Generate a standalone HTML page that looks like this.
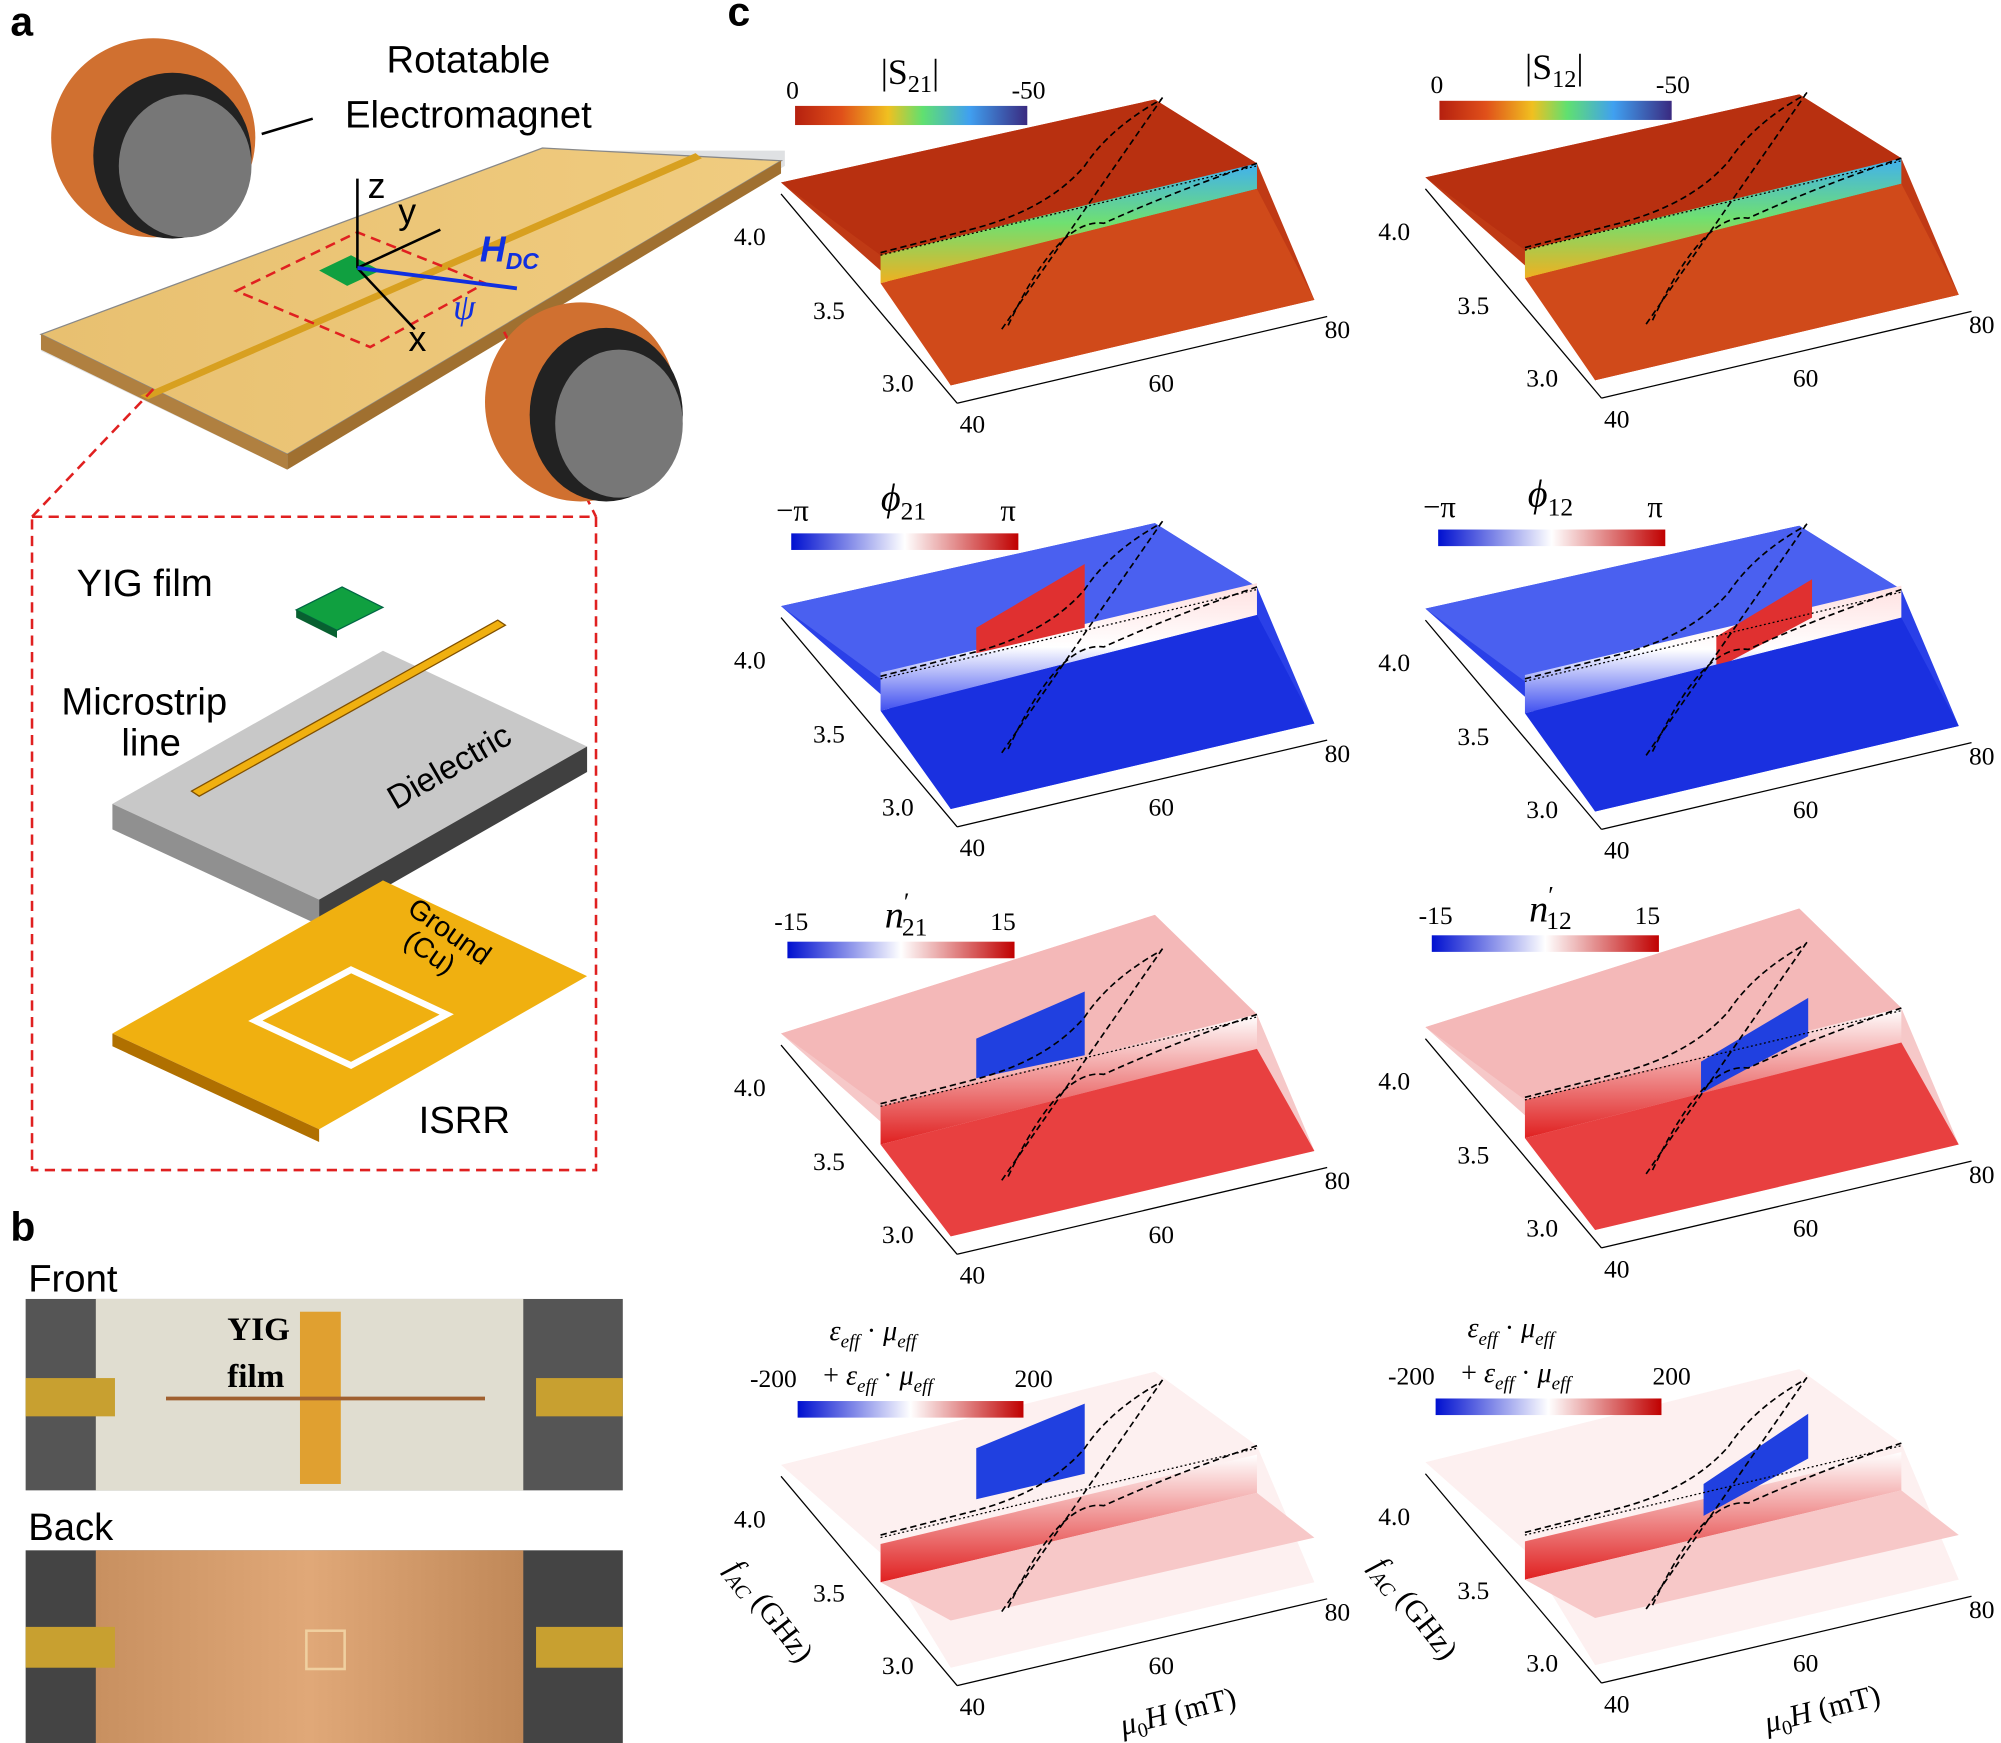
<!DOCTYPE html>
<html><head><meta charset="utf-8"><style>
html,body{margin:0;padding:0;background:#fff;}
svg{display:block}
.s{font-family:"Liberation Sans",sans-serif}
.r{font-family:"Liberation Serif",serif}
</style></head><body>
<svg width="2001" height="1743" viewBox="0 0 1568 1366" xmlns="http://www.w3.org/2000/svg">
<defs>
<linearGradient id="jet" x1="0" x2="1"><stop offset="0" stop-color="#b5200f"/><stop offset="0.2" stop-color="#e0501a"/><stop offset="0.4" stop-color="#f0c020"/><stop offset="0.55" stop-color="#60e070"/><stop offset="0.75" stop-color="#40a0f0"/><stop offset="1" stop-color="#3a2a80"/></linearGradient>
<linearGradient id="bwr" x1="0" x2="1"><stop offset="0" stop-color="#0010d0"/><stop offset="0.5" stop-color="#ffffff"/><stop offset="1" stop-color="#c00000"/></linearGradient>
<linearGradient id="bandS" x1="0" y1="0" x2="0" y2="1"><stop offset="0" stop-color="#40b0f0"/><stop offset="0.5" stop-color="#70e070"/><stop offset="1" stop-color="#f0b020"/></linearGradient>
<linearGradient id="bandP" x1="0" y1="0" x2="0" y2="1"><stop offset="0" stop-color="#ffe0e0"/><stop offset="0.5" stop-color="#ffffff"/><stop offset="1" stop-color="#4050f0"/></linearGradient>
<linearGradient id="bandN" x1="0" y1="0" x2="0" y2="1"><stop offset="0" stop-color="#fff"/><stop offset="1" stop-color="#e02020"/></linearGradient>
<linearGradient id="board" x1="0" x2="1"><stop offset="0" stop-color="#e8c070"/><stop offset="1" stop-color="#f0cc80"/></linearGradient>
<linearGradient id="copper" x1="0" x2="1"><stop offset="0" stop-color="#c89060"/><stop offset="0.5" stop-color="#e0a878"/><stop offset="1" stop-color="#c08858"/></linearGradient>
<g id="axes">
<line x1="612" y1="152" x2="750" y2="316" stroke="#000" stroke-width="1"/>
<line x1="750" y1="316" x2="1040" y2="248" stroke="#000" stroke-width="1"/>
<text x="600" y="192" class="r" font-size="20" text-anchor="end">4.0</text>
<text x="662" y="250" class="r" font-size="20" text-anchor="end">3.5</text>
<text x="716" y="307" class="r" font-size="20" text-anchor="end">3.0</text>
<text x="762" y="339" class="r" font-size="20" text-anchor="middle">40</text>
<text x="910" y="307" class="r" font-size="20" text-anchor="middle">60</text>
<text x="1048" y="265" class="r" font-size="20" text-anchor="middle">80</text>
</g>
<g id="lines">
<line x1="785" y1="258" x2="912" y2="75" stroke="#000" stroke-width="1.3" stroke-dasharray="5,3"/>
<path d="M790,255 Q830,170 865,175 Q920,150 985,128" fill="none" stroke="#000" stroke-width="1.3" stroke-dasharray="5,3"/>
<path d="M690,198 L760,180 Q820,165 850,130 Q870,100 910,78" fill="none" stroke="#000" stroke-width="1.3" stroke-dasharray="5,3"/>
<line x1="690" y1="200" x2="985" y2="130" stroke="#000" stroke-width="1" stroke-dasharray="1.5,2"/>
</g>
</defs>

<!-- Panel a -->
<text x="8" y="28" class="s" font-size="32" font-weight="bold">a</text>
<polygon points="32,262 420,118 615,118 615,130 225,368 32,275" fill="#c9cdd0" opacity="0.6"/>
<polygon points="32,262 425,116 612,126 225,356" fill="url(#board)" stroke="#888"/>
<polygon points="32,262 225,356 225,368 32,274" fill="#b08040"/>
<polygon points="225,356 612,126 612,136 225,368" fill="#a07030"/>
<polygon points="110,310 545,120 550,124 116,313" fill="#d8a020"/>
<polygon points="185,228 280,182 380,222 290,272" fill="none" stroke="#e02020" stroke-width="2" stroke-dasharray="8,5"/>
<polygon points="250,212 275,200 298,212 272,224" fill="#10a040"/>
<line x1="280" y1="210" x2="280" y2="140" stroke="#000" stroke-width="2"/>
<line x1="280" y1="210" x2="345" y2="180" stroke="#000" stroke-width="2"/>
<line x1="280" y1="210" x2="325" y2="258" stroke="#000" stroke-width="2"/>
<line x1="280" y1="210" x2="405" y2="226" stroke="#1030e0" stroke-width="3"/>
<text x="288" y="155" class="s" font-size="28">z</text>
<text x="312" y="175" class="s" font-size="28">y</text>
<text x="320" y="275" class="s" font-size="28">x</text>
<text x="376" y="205" class="s" font-size="28" font-weight="bold" font-style="italic" fill="#1030e0">H<tspan font-size="18" dy="6">DC</tspan></text>
<text x="355" y="250" class="r" font-size="28" font-style="italic" fill="#1030e0">ψ</text>
<line x1="120" y1="305" x2="25" y2="405" stroke="#e02020" stroke-width="2" stroke-dasharray="8,5"/>
<line x1="395" y1="260" x2="467" y2="405" stroke="#e02020" stroke-width="2" stroke-dasharray="8,5"/>
<!-- magnets -->
<ellipse cx="120" cy="108" rx="80" ry="78" fill="#d07030"/>
<ellipse cx="135" cy="122" rx="62" ry="65" fill="#222"/>
<ellipse cx="145" cy="130" rx="52" ry="56" fill="#777"/>
<ellipse cx="455" cy="315" rx="75" ry="78" fill="#d07030"/>
<ellipse cx="475" cy="325" rx="60" ry="68" fill="#222"/>
<ellipse cx="485" cy="332" rx="50" ry="58" fill="#777"/>
<text x="367" y="57" class="s" font-size="30" text-anchor="middle">Rotatable</text>
<text x="367" y="100" class="s" font-size="30" text-anchor="middle">Electromagnet</text>
<line x1="245" y1="93" x2="205" y2="105" stroke="#000" stroke-width="2"/>
<rect x="25" y="405" width="442" height="512" fill="none" stroke="#e02020" stroke-width="2" stroke-dasharray="8,5"/>
<text x="60" y="467" class="s" font-size="30">YIG film</text>
<polygon points="232,478 268,460 300,476 264,494" fill="#10a040" stroke="#064"/>
<polygon points="232,478 264,494 264,500 232,484" fill="#086030"/>
<polygon points="88,630 300,510 460,585 250,705" fill="#c8c8c8"/>
<polygon points="88,630 250,705 250,725 88,650" fill="#909090"/>
<polygon points="250,705 460,585 460,605 250,725" fill="#404040"/>
<polygon points="150,620 390,486 396,490 156,624" fill="#f0b010" stroke="#805000"/>
<text x="48" y="560" class="s" font-size="30">Microstrip</text>
<text x="95" y="592" class="s" font-size="30">line</text>
<text x="310" y="635" class="s" font-size="26" transform="rotate(-30 310 635)">Dielectric</text>
<polygon points="88,810 300,690 460,765 250,885" fill="#f0b010"/>
<polygon points="88,810 250,885 250,895 88,820" fill="#b07000"/>
<polygon points="200,800 275,760 350,795 275,835" fill="none" stroke="#fff" stroke-width="5"/>
<text x="318" y="715" class="s" font-size="22" transform="rotate(35 318 715)">Ground</text>
<text x="315" y="740" class="s" font-size="22" transform="rotate(35 315 740)">(Cu)</text>
<text x="328" y="888" class="s" font-size="30">ISRR</text>

<!-- Panel b -->
<text x="8" y="972" class="s" font-size="32" font-weight="bold">b</text>
<text x="22" y="1012" class="s" font-size="30">Front</text>
<rect x="20" y="1018" width="468" height="150" fill="#555"/>
<rect x="75" y="1018" width="335" height="150" fill="#e0ddd0"/>
<rect x="20" y="1080" width="70" height="30" fill="#c8a030"/>
<rect x="420" y="1080" width="68" height="30" fill="#c8a030"/>
<rect x="235" y="1028" width="32" height="135" fill="#e0a030"/>
<line x1="130" y1="1096" x2="380" y2="1096" stroke="#a06030" stroke-width="3"/>
<text x="178" y="1050" class="r" font-size="26" font-weight="bold">YIG</text>
<text x="178" y="1087" class="r" font-size="26" font-weight="bold">film</text>
<text x="22" y="1207" class="s" font-size="30">Back</text>
<rect x="20" y="1215" width="468" height="151" fill="#444"/>
<rect x="75" y="1215" width="335" height="151" fill="url(#copper)"/>
<rect x="20" y="1275" width="70" height="32" fill="#c8a030"/>
<rect x="420" y="1275" width="68" height="32" fill="#c8a030"/>
<rect x="240" y="1278" width="30" height="30" fill="none" stroke="#f0d0a0" stroke-width="2"/>

<!-- Panel c -->
<text x="570" y="20" class="s" font-size="32" font-weight="bold">c</text>

<!-- Row 1 S21 / S12 -->
<g>
<polygon points="612,143 905,78 985,128 1030,235 745,302 690,212" fill="#c03a15"/>
<polygon points="612,143 905,78 985,128 690,200" fill="#b83010"/>
<polygon points="690,200 985,128 985,148 690,222" fill="url(#bandS)"/>
<polygon points="690,222 985,148 1030,235 745,302" fill="#d04a1a"/>
<use href="#lines"/><use href="#axes"/>
<rect x="623" y="83" width="182" height="15" fill="url(#jet)"/>
<text x="621" y="77" class="r" font-size="20" text-anchor="middle">0</text>
<text x="806" y="77" class="r" font-size="20" text-anchor="middle">-50</text>
<text x="713" y="66" class="r" font-size="28" text-anchor="middle">|S<tspan font-size="19" dy="6">21</tspan><tspan dy="-6">|</tspan></text>
</g>
<g transform="translate(505,-4)">
<polygon points="612,143 905,78 985,128 1030,235 745,302 690,212" fill="#c03a15"/>
<polygon points="612,143 905,78 985,128 690,200" fill="#b83010"/>
<polygon points="690,200 985,128 985,148 690,222" fill="url(#bandS)"/>
<polygon points="690,222 985,148 1030,235 745,302" fill="#d04a1a"/>
<use href="#lines"/><use href="#axes"/>
<rect x="623" y="83" width="182" height="15" fill="url(#jet)"/>
<text x="621" y="77" class="r" font-size="20" text-anchor="middle">0</text>
<text x="806" y="77" class="r" font-size="20" text-anchor="middle">-50</text>
<text x="713" y="66" class="r" font-size="28" text-anchor="middle">|S<tspan font-size="19" dy="6">12</tspan><tspan dy="-6">|</tspan></text>
</g>

<!-- Row 2 phase -->
<g transform="translate(0,332)">
<polygon points="612,143 905,78 985,128 1030,235 745,302 690,212" fill="#2a40e8"/>
<polygon points="612,143 905,78 985,128 690,200" fill="#4a60f0"/>
<polygon points="690,195 985,125 985,150 690,225" fill="url(#bandP)"/>
<polygon points="765,160 850,110 850,160 765,180" fill="#e03030"/>
<polygon points="690,225 985,150 1030,235 745,302" fill="#1a30e0"/>
<use href="#lines"/><use href="#axes"/>
</g>
<g transform="translate(0,330)">
<rect x="620" y="88" width="178" height="13" fill="url(#bwr)"/>
<text x="621" y="78" class="r" font-size="24" text-anchor="middle">−π</text>
<text x="790" y="78" class="r" font-size="24" text-anchor="middle">π</text>
<text x="708" y="70" class="r" font-size="30" text-anchor="middle" font-style="italic">ϕ<tspan font-size="20" dy="7" font-style="normal">21</tspan></text>
</g>
<g transform="translate(505,334)">
<polygon points="612,143 905,78 985,128 1030,235 745,302 690,212" fill="#2a40e8"/>
<polygon points="612,143 905,78 985,128 690,200" fill="#4a60f0"/>
<polygon points="690,195 985,125 985,150 690,225" fill="url(#bandP)"/>
<polygon points="840,165 915,120 915,150 840,190" fill="#e03030"/>
<polygon points="690,225 985,150 1030,235 745,302" fill="#1a30e0"/>
<use href="#lines"/><use href="#axes"/>
</g>
<g transform="translate(507,327)">
<rect x="620" y="88" width="178" height="13" fill="url(#bwr)"/>
<text x="621" y="78" class="r" font-size="24" text-anchor="middle">−π</text>
<text x="790" y="78" class="r" font-size="24" text-anchor="middle">π</text>
<text x="708" y="70" class="r" font-size="30" text-anchor="middle" font-style="italic">ϕ<tspan font-size="20" dy="7" font-style="normal">12</tspan></text>
</g>

<!-- Row 3 n' -->
<g transform="translate(0,667)">
<polygon points="612,143 905,50 985,128 1030,235 745,302 690,212" fill="#f6c8c8"/>
<polygon points="612,143 905,50 985,128 690,200" fill="#f4b8b8"/>
<polygon points="690,200 985,128 985,155 690,230" fill="url(#bandN)"/>
<polygon points="690,230 985,155 1030,235 745,302" fill="#e84040"/>
<polygon points="765,147 850,110 850,160 765,178" fill="#2040e0"/>
<use href="#lines"/><use href="#axes"/>
<rect x="617" y="71" width="178" height="13" fill="url(#bwr)"/>
<text x="620" y="62" class="r" font-size="20" text-anchor="middle">-15</text>
<text x="786" y="62" class="r" font-size="20" text-anchor="middle">15</text>
<text x="710" y="60" class="r" font-size="30" text-anchor="middle" font-style="italic">n<tspan font-size="20" dy="-14" font-style="normal">′</tspan><tspan font-size="20" dy="20" dx="-6" font-style="normal">21</tspan></text>
</g>
<g transform="translate(505,662)">
<polygon points="612,143 905,50 985,128 1030,235 745,302 690,212" fill="#f6c8c8"/>
<polygon points="612,143 905,50 985,128 690,200" fill="#f4b8b8"/>
<polygon points="690,200 985,128 985,155 690,230" fill="url(#bandN)"/>
<polygon points="690,230 985,155 1030,235 745,302" fill="#e84040"/>
<polygon points="828,170 912,120 912,150 828,195" fill="#2040e0"/>
<use href="#lines"/><use href="#axes"/>
<rect x="617" y="71" width="178" height="13" fill="url(#bwr)"/>
<text x="620" y="62" class="r" font-size="20" text-anchor="middle">-15</text>
<text x="786" y="62" class="r" font-size="20" text-anchor="middle">15</text>
<text x="710" y="60" class="r" font-size="30" text-anchor="middle" font-style="italic">n<tspan font-size="20" dy="-14" font-style="normal">′</tspan><tspan font-size="20" dy="20" dx="-6" font-style="normal">12</tspan></text>
</g>

<!-- Row 4 eps*mu -->
<g transform="translate(0,1005)">
<polygon points="612,143 905,70 985,128 1030,235 745,302 690,212" fill="#fdf0f0"/>
<polygon points="690,205 985,135 985,165 690,235" fill="url(#bandN)"/>
<polygon points="690,235 985,165 1030,200 745,265" fill="#f7c8c8"/>
<polygon points="765,130 850,95 850,150 765,170" fill="#2040e0"/>
<use href="#lines"/><use href="#axes"/>
<rect x="625" y="93" width="177" height="13" fill="url(#bwr)"/>
<text x="606" y="82" class="r" font-size="20" text-anchor="middle">-200</text>
<text x="810" y="82" class="r" font-size="20" text-anchor="middle">200</text>
<text x="650" y="45" class="r" font-size="22" font-style="italic">ε<tspan font-size="15" dy="6">eff</tspan><tspan dy="-6" font-style="normal"> · </tspan>μ<tspan font-size="15" dy="6">eff</tspan></text>
<text x="645" y="80" class="r" font-size="22">+ <tspan font-style="italic">ε</tspan><tspan font-size="15" dy="6" font-style="italic">eff</tspan><tspan dy="-6"> · </tspan><tspan font-style="italic">μ</tspan><tspan font-size="15" dy="6" font-style="italic">eff</tspan></text>
<text x="568" y="225" class="r" font-size="24" font-style="italic" transform="rotate(52 568 225)">f<tspan font-size="16" dy="5">AC</tspan><tspan dy="-5" font-style="normal"> (GHz)</tspan></text>
<text x="880" y="355" class="r" font-size="24" transform="rotate(-14 880 355)"><tspan font-style="italic">μ</tspan><tspan font-size="16" dy="5">0</tspan><tspan dy="-5" font-style="italic">H</tspan> (mT)</text>
</g>
<g transform="translate(505,1003)">
<polygon points="612,143 905,70 985,128 1030,235 745,302 690,212" fill="#fdf0f0"/>
<polygon points="690,205 985,135 985,165 690,235" fill="url(#bandN)"/>
<polygon points="690,235 985,165 1030,200 745,265" fill="#f7c8c8"/>
<polygon points="830,160 912,105 912,140 830,185" fill="#2040e0"/>
<use href="#lines"/><use href="#axes"/>
<rect x="620" y="93" width="177" height="13" fill="url(#bwr)"/>
<text x="601" y="82" class="r" font-size="20" text-anchor="middle">-200</text>
<text x="805" y="82" class="r" font-size="20" text-anchor="middle">200</text>
<text x="645" y="45" class="r" font-size="22" font-style="italic">ε<tspan font-size="15" dy="6">eff</tspan><tspan dy="-6" font-style="normal"> · </tspan>μ<tspan font-size="15" dy="6">eff</tspan></text>
<text x="640" y="80" class="r" font-size="22">+ <tspan font-style="italic">ε</tspan><tspan font-size="15" dy="6" font-style="italic">eff</tspan><tspan dy="-6"> · </tspan><tspan font-style="italic">μ</tspan><tspan font-size="15" dy="6" font-style="italic">eff</tspan></text>
<text x="568" y="225" class="r" font-size="24" font-style="italic" transform="rotate(52 568 225)">f<tspan font-size="16" dy="5">AC</tspan><tspan dy="-5" font-style="normal"> (GHz)</tspan></text>
<text x="880" y="355" class="r" font-size="24" transform="rotate(-14 880 355)"><tspan font-style="italic">μ</tspan><tspan font-size="16" dy="5">0</tspan><tspan dy="-5" font-style="italic">H</tspan> (mT)</text>
</g>
</svg>
</body></html>
